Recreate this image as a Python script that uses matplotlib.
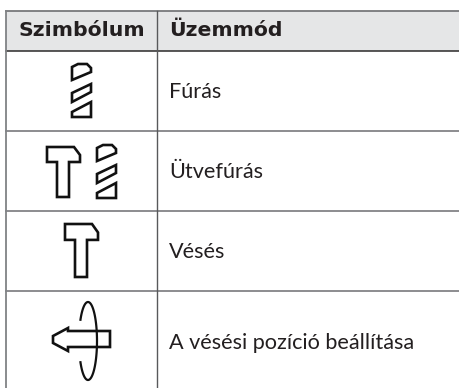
import numpy as np
import matplotlib
matplotlib.use("Agg")
import matplotlib.pyplot as plt
from matplotlib.patches import Polygon, Rectangle

# table content
headers = ["Szimbólum", "Üzemmód"]
modes = ["Fúrás", "Ütvefúrás", "Vésés", "A vésési pozíció beállítása"]
row_lines = [51, 131, 211, 291]

# icon outlines, in pixels from the icon's top left corner
drill_top = [(0, 3), (6, 0), (15, 0), (19, 4), (19, 8), (0, 16)]
drill_mid = [(19, 20), (19, 28), (0, 38), (0, 29)]
drill_bottom = [(19, 38), (19, 53), (0, 53), (0, 48)]
hammer = [(0, 0), (27, 0), (33, 8), (33, 15), (22, 15), (22, 50), (10, 50), (10, 15), (0, 15)]
arrow = [(0, 8), (15, 0), (15, 3), (57, 3), (57, 19), (15, 19), (15, 23), (0, 15)]

fig = plt.figure(figsize=(4.59, 3.88), dpi=100)
ax = fig.add_axes([0, 0, 1, 1])
ax.set_xlim(0, 459)
ax.set_ylim(388, 0)
ax.axis("off")

# header band
ax.add_patch(Rectangle((6, 11), 453, 40, fc="#e5e6e7", ec="none"))

# grid
ax.plot([6, 459], [11, 11], color="#77787b", lw=1.3)
ax.plot([6, 459], [51, 51], color="#2b2a29", lw=1.1)
for y in row_lines[1:]:
    ax.plot([6, 459], [y, y], color="#6d6e71", lw=1.1)
ax.plot([6, 6], [11, 388], color="#808285", lw=1.3)
ax.plot([157, 157], [11, 388], color="#58595b", lw=1.0)

# texts
ax.text(19, 31, headers[0], fontsize=14.7, fontweight="bold", family="DejaVu Sans",
        color="#231f20", va="center", ha="left")
ax.text(169, 31, headers[1], fontsize=14.7, fontweight="bold", family="DejaVu Sans",
        color="#231f20", va="center", ha="left")
for text, y in zip(modes, [92, 172, 252, 343]):
    ax.text(169, y, text, fontsize=15.6, family="Lato", color="#231f20", va="center", ha="left")


def draw_icon(points, x, y, lw=1.9, yscale=1.0):
    shifted = [(x + px, y + py * yscale) for px, py in points]
    ax.add_patch(Polygon(shifted, closed=True, fc="none", ec="#111111", lw=lw, joinstyle="miter"))


def draw_drill(x, y):
    draw_icon(drill_top, x, y)
    draw_icon(drill_mid, x, y)
    draw_icon(drill_bottom, x, y)


draw_drill(72, 64)
draw_icon(hammer, 47, 147)
draw_drill(97, 145)
draw_icon(hammer, 65, 224, yscale=1.06)
draw_icon(arrow, 53, 328)

# rotation ring around the arrow, open on its left side
a = np.radians(np.linspace(-147, 147, 120))
ax.plot(88 + 9 * np.cos(a), 341 - 39 * np.sin(a), color="#111111", lw=1.6)

fig.savefig("out.png", dpi=100)
